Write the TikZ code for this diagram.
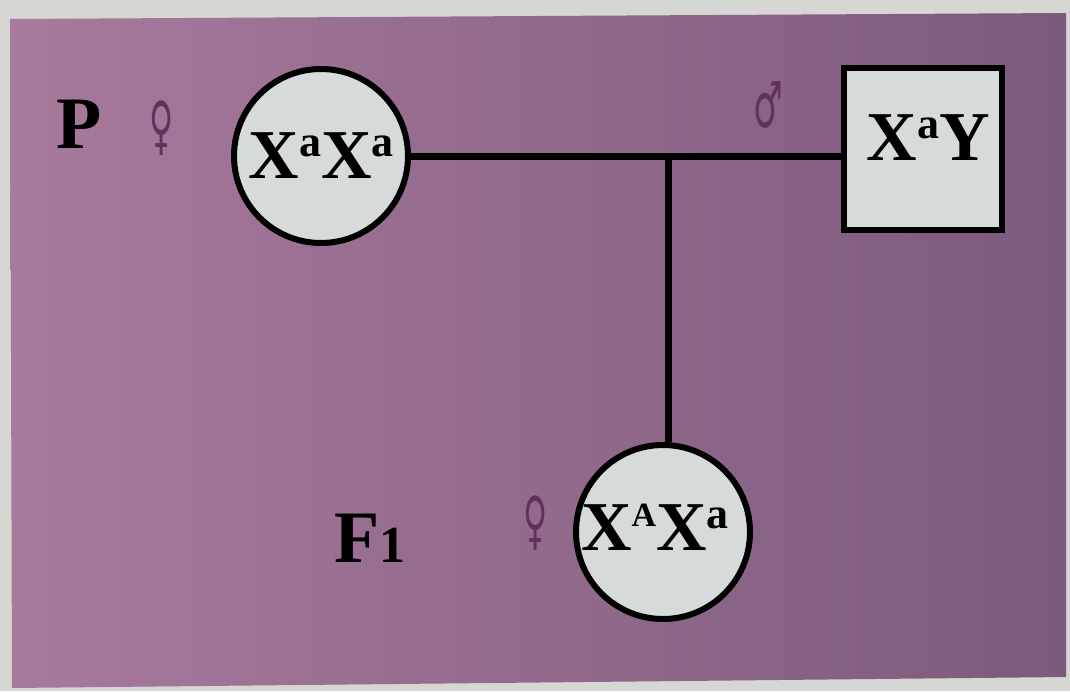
\documentclass[tikz,border=0pt]{standalone}
\usepackage{fontspec}
\setmainfont{Liberation Serif}
\newfontfamily\symfont{DejaVu Sans}
\definecolor{paper}{RGB}{214,214,211}
\definecolor{purL}{RGB}{168,122,156}
\definecolor{purR}{RGB}{124,90,124}
\definecolor{cellfill}{RGB}{214,218,218}
\definecolor{symcol}{RGB}{98,48,92}
\newcommand{\supa}[1]{\raisebox{22pt}{\fontsize{44}{44}\selectfont #1}}
\newcommand{\supA}[1]{\raisebox{24pt}{\fontsize{34}{34}\selectfont #1}}
\newcommand{\tallsym}[1]{\scalebox{0.75}[1.45]{#1}}
\begin{document}
\begin{tikzpicture}[x=1pt,y=-1pt,
  indiv/.style={draw=black,line width=6pt,fill=cellfill,inner sep=0pt},
  fem/.style={indiv,circle,minimum size=174pt},
  mal/.style={indiv,rectangle,minimum width=158pt,minimum height=162pt},
  geno/.style={inner sep=0pt,anchor=base,font=\bfseries\fontsize{70}{70}\selectfont},
  lab/.style={inner sep=0pt,anchor=base,font=\bfseries\fontsize{74}{74}\selectfont},
  sym/.style={inner sep=0pt,text=symcol,font=\symfont\fontsize{44}{44}\selectfont},
  link/.style={line width=7pt,draw=black}]
\useasboundingbox (0,0) rectangle (1070,691);
\fill[paper] (0,0) rectangle (1070,691);
\shade[left color=purL,right color=purR] (10,19) -- (1066,13) -- (1066,677) -- (12,688) -- cycle;
% individuals
\node[fem] (mother) at (321,156) {};
\node[mal] (father) at (923,149) {};
\node[fem] (child) at (663,532) {};
% connectors
\coordinate (junc) at (668,156);
\draw[link] (mother.east) -- (mother.east -| father.west);
\draw[link] (junc) -- (junc |- child.north);
% genotypes
\node[geno] (gm) at (321,178) {X\supa{a}X\supa{a}};
\node[geno] (gf) at (928,160) {X\supa{a}Y};
\node[geno] (gc) at (655,550) {X\supA{A}X\supa{a}};
% labels
\node[lab] (lP) at (79,148) {P};
\node[lab] (lF) at (370,562) {F\fontsize{52}{52}\selectfont 1};
\node[sym] (s1) at (162,128) {\tallsym{♀}};
\node[sym] (s2) at (768,105) {\tallsym{♂}};
\node[sym] (s3) at (536,523) {\tallsym{♀}};
\end{tikzpicture}
\end{document}
